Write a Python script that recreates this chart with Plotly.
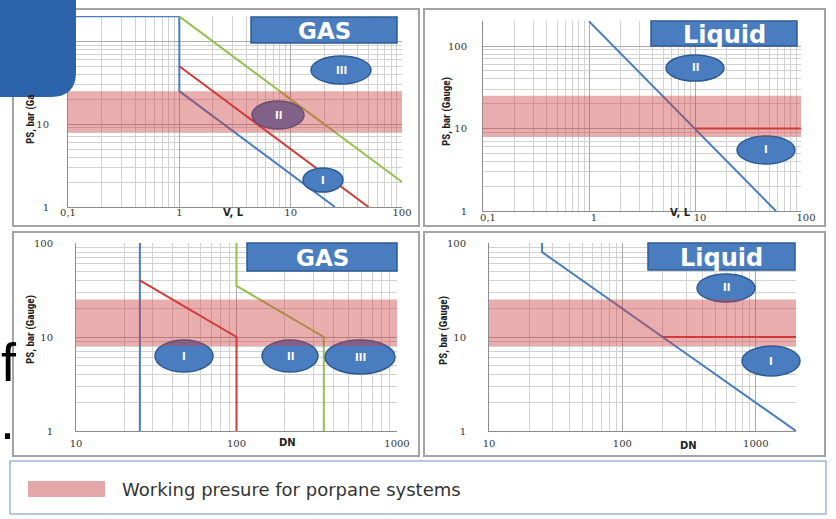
import math
import plotly.graph_objects as go

W, H = 836, 519

# ---------------- data ----------------
# Panel A: gas vessels, volume V (L) vs PS (bar gauge)
gas_v_I_x = [0.1, 1, 1, 25]
gas_v_I_y = [200, 200, 25, 1]
gas_v_II_x = [1, 50]
gas_v_II_y = [50, 1]
gas_v_III_x = [1, 100]
gas_v_III_y = [200, 2]
# Panel B: liquid vessels
liq_v_x = [1, 10, 58]
liq_v_y = [200, 10, 1]
liq_v_ps_x = [10, 100]
liq_v_ps_y = [10, 10]
# Panel C: gas piping, DN vs PS
gas_dn_I_x = [25, 25]
gas_dn_I_y = [1, 100]
gas_dn_II_x = [25, 100, 100]
gas_dn_II_y = [40, 10, 1]
gas_dn_III_x = [100, 100, 350, 350]
gas_dn_III_y = [100, 35, 10, 1]
# Panel D: liquid piping
liq_dn_x = [25, 25, 200, 2000]
liq_dn_y = [100, 80, 10, 1]
liq_dn_ps_x = [200, 2000]
liq_dn_ps_y = [10, 10]
# working pressure band (bar)
band_ps = [8, 25]

x_ticks_v = [0.1, 1, 10, 100]
x_ticktext_v = ["0,1", "1", "10", "100"]
x_ticks_dn = [10, 100, 1000]
x_ticktext_dn = ["10", "100", "1000"]
y_ticks = [1, 10, 100]
y_ticktext = ["1", "10", "100"]
panel_titles = ["GAS", "Liquid", "GAS", "Liquid"]
x_titles = ["V, L", "V, L", "DN", "DN"]
y_title = "PS, bar (Gauge)"
legend_text = "Working presure for porpane systems"

# ---------------- helpers ----------------
def px(x):
    return x / W

def py(y):
    return 1 - y / H

def minor_vals(lo, hi):
    return [m * 10 ** d for d in range(lo, hi) for m in range(2, 10)]

BLUE = "#4a7cc0"
RED = "#d23a3a"
GREEN = "#98c04e"
BOXFILL = "#4a7dc0"
BOXLINE = "#2e5b94"
TICKFONT = dict(family="DejaVu Serif", size=10, color="#333333")

def xaxis(dom, rng, tv, tt, anchor, mv, standoff=0, shift=0):
    return dict(type="log", domain=[px(dom[0]), px(dom[1])], range=rng,
                tickmode="array", tickvals=tv, ticktext=tt, ticks="",
                showgrid=True, gridcolor="#ababab", gridwidth=1,
                minor=dict(tickmode="array", tickvals=mv, showgrid=True,
                           gridcolor="#d2d2d2", gridwidth=1, ticks=""),
                showline=True, linecolor="#8c8c8c", linewidth=1, automargin=False,
                tickfont=TICKFONT, anchor=anchor, ticklabelstandoff=standoff,
                ticklabelshift=shift)

def yaxis(dom, rng, anchor, mv, standoff=14):
    return dict(type="log", domain=[py(dom[1]), py(dom[0])], range=rng,
                tickmode="array", tickvals=y_ticks, ticktext=y_ticktext, ticks="",
                showgrid=True, gridcolor="#ababab", gridwidth=1,
                minor=dict(tickmode="array", tickvals=mv, showgrid=True,
                           gridcolor="#d2d2d2", gridwidth=1, ticks=""),
                showline=True, linecolor="#8c8c8c", linewidth=1, automargin=False,
                tickfont=TICKFONT, anchor=anchor, ticklabelstandoff=standoff)

fig = go.Figure()

def line(x, y, color, ax):
    fig.add_trace(go.Scatter(x=x, y=y, mode="lines", line=dict(color=color, width=2),
                             xaxis="x" + ax, yaxis="y" + ax, hoverinfo="skip",
                             showlegend=False))

# panel A
line(gas_v_I_x, gas_v_I_y, BLUE, "")
line(gas_v_II_x, gas_v_II_y, RED, "")
line(gas_v_III_x, gas_v_III_y, GREEN, "")
# panel B
line(liq_v_ps_x, liq_v_ps_y, RED, "2")
line(liq_v_x, liq_v_y, BLUE, "2")
# panel C
line(gas_dn_I_x, gas_dn_I_y, BLUE, "3")
line(gas_dn_II_x, gas_dn_II_y, RED, "3")
line(gas_dn_III_x, gas_dn_III_y, GREEN, "3")
# panel D
line(liq_dn_ps_x, liq_dn_ps_y, RED, "4")
line(liq_dn_x, liq_dn_y, BLUE, "4")

ytop_v = math.log10(200) + 0.004
mv_v = minor_vals(-1, 2)
mv_dn = minor_vals(1, 4)
mv_y = minor_vals(0, 3)

layout = dict(
    width=W, height=H, margin=dict(l=0, r=0, t=0, b=0, pad=0), autosize=False,
    paper_bgcolor="white", plot_bgcolor="white", showlegend=False,
    xaxis=xaxis((68, 402), [-1, 2], x_ticks_v, x_ticktext_v, "y", mv_v, -4),
    yaxis=yaxis((16, 207), [0, ytop_v], "x", mv_y, 16),
    xaxis2=xaxis((483, 801), [-1, 2], x_ticks_v, x_ticktext_v, "y2", mv_v, -3, 5),
    yaxis2=yaxis((21, 211), [0, ytop_v], "x2", mv_y, 13),
    xaxis3=xaxis((76, 397), [1, 3], x_ticks_dn, x_ticktext_dn, "y3", mv_dn, 3),
    yaxis3=yaxis((243, 431), [0, 2], "x3", mv_y, 20),
    xaxis4=xaxis((489, 796), [1, math.log10(2000)], x_ticks_dn, x_ticktext_dn, "y4", mv_dn, 3),
    yaxis4=yaxis((243, 431), [0, 2], "x4", mv_y, 20),
)
fig.update_layout(**layout)

shapes = []
# panel frames
frames = [(13, 9, 419, 226), (424, 9, 825, 226), (13, 232, 419, 456), (424, 232, 825, 456)]
for x0, y0, x1, y1 in frames:
    shapes.append(dict(type="rect", xref="paper", yref="paper", layer="below",
                       x0=px(x0), x1=px(x1), y0=py(y1), y1=py(y0),
                       line=dict(color="#a4a4a4", width=2), fillcolor="rgba(0,0,0,0)"))

# category ellipses (cx, cy, rx, ry, label)
ellipses = [
    (341, 70, 30, 14, "III"), (278, 115, 26, 14, "II"), (323, 180, 20, 12, "I"),
    (695, 68, 29, 13, "II"), (766, 150, 29, 14, "I"),
    (184, 356, 29, 16, "I"), (290, 356, 28, 16, "II"), (360, 357, 35, 17, "III"),
    (726, 288, 29, 14, "II"), (771, 361, 29, 15, "I"),
]
for cx, cy, rx, ry, lab in ellipses:
    shapes.append(dict(type="circle", xref="paper", yref="paper", layer="above",
                       x0=px(cx - rx), x1=px(cx + rx), y0=py(cy + ry), y1=py(cy - ry),
                       fillcolor=BOXFILL, line=dict(color=BOXLINE, width=1.5)))

# working-pressure band (drawn over lines and ellipses)
for ax in ["", "2", "3", "4"]:
    shapes.append(dict(type="rect", xref="x%s domain" % ax, yref="y" + ax, layer="above",
                       x0=0, x1=1, y0=band_ps[0], y1=band_ps[1],
                       fillcolor="rgba(205,60,60,0.42)", line=dict(width=0)))

# title boxes
boxes = [(251, 17, 397, 43), (651, 21, 797, 46), (247, 243, 397, 271), (648, 243, 795, 270)]
for x0, y0, x1, y1 in boxes:
    shapes.append(dict(type="rect", xref="paper", yref="paper", layer="above",
                       x0=px(x0), x1=px(x1), y0=py(y1), y1=py(y0),
                       fillcolor=BOXFILL, line=dict(color=BOXLINE, width=1.5)))

# legend box + swatch
shapes.append(dict(type="rect", xref="paper", yref="paper", layer="above",
                   x0=px(10), x1=px(826), y0=py(514), y1=py(461),
                   fillcolor="white", line=dict(color="#9fb6d6", width=1.5)))
shapes.append(dict(type="rect", xref="paper", yref="paper", layer="above",
                   x0=px(28), x1=px(105), y0=py(497), y1=py(481),
                   fillcolor="#e3a7a7", line=dict(width=0)))

# top-left slide decoration
path = "M %f,%f L %f,%f L %f,%f Q %f,%f %f,%f L %f,%f Z" % (
    px(0), py(0), px(76), py(0), px(76), py(72), px(76), py(97), px(51), py(97), px(0), py(97))
shapes.append(dict(type="path", xref="paper", yref="paper", layer="above", path=path,
                   fillcolor="#2c63aa", line=dict(width=0)))
fig.update_layout(shapes=shapes)

def note(x, y, text, font, **kw):
    d = dict(x=px(x), y=py(y), xref="paper", yref="paper", text=text, showarrow=False,
             xanchor="center", yanchor="middle", font=font)
    d.update(kw)
    return d

ann = []
for cx, cy, rx, ry, lab in ellipses:
    ann.append(note(cx, cy, "<b>%s</b>" % lab, dict(family="DejaVu Sans", size=10, color="white")))
for (x0, y0, x1, y1), t in zip(boxes, panel_titles):
    ann.append(note((x0 + x1) / 2, (y0 + y1) / 2 + 1, "<b>%s</b>" % t,
                    dict(family="DejaVu Sans", size=23 if t == "GAS" else 24, color="white")))
# axis titles
for (xx, yy), t in zip([(233, 213), (680, 213), (287, 442), (688, 445)], x_titles):
    ann.append(note(xx, yy, "<b>%s</b>" % t, dict(family="DejaVu Sans", size=10, color="#222222")))
YFONT = dict(family="Liberation Sans Narrow, Roboto Condensed, Roboto", size=11, color="#222222")
for (xx, yy) in [(447, 112), (30, 330), (443, 330)]:
    ann.append(note(xx, yy, "<b>%s</b>" % y_title, YFONT, textangle=-90))
# panel A title partially hidden behind the slide decoration
ann.append(note(30, 120, "<b>PS, bar (Ga</b>", YFONT, textangle=-90))
# legend text
ann.append(note(120, 489, legend_text, dict(family="DejaVu Sans", size=18, color="#333333"),
                xanchor="left"))
# slide background glyphs at left edge
ann.append(note(-1, 362, "f", dict(family="Liberation Sans", size=54, color="black"), xanchor="left"))
ann.append(note(-2, 420, ".", dict(family="Liberation Sans", size=54, color="black"), xanchor="left"))
fig.update_layout(annotations=ann)

fig.write_html("out.html", config={"displayModeBar": False},
               post_script="document.body.style.margin='0px';document.body.style.overflow='hidden';")
